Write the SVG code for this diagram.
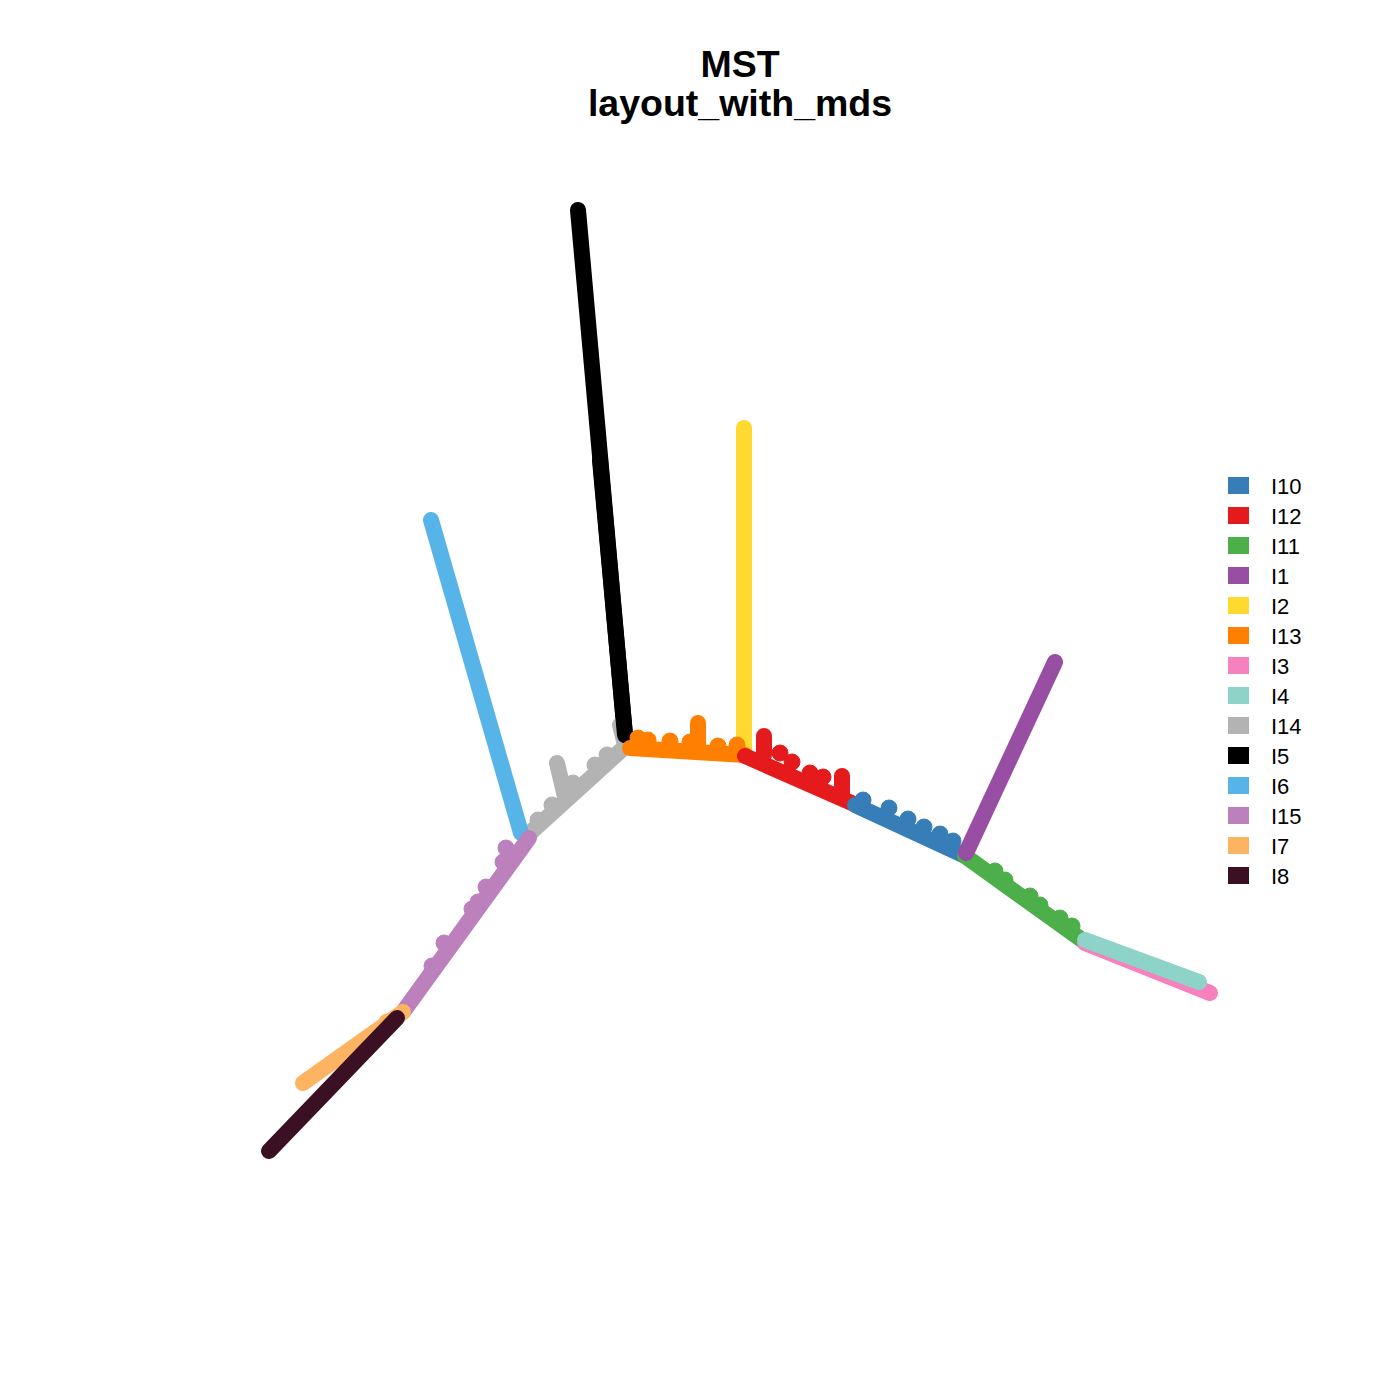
<svg xmlns="http://www.w3.org/2000/svg" width="1400" height="1400" viewBox="0 0 1400 1400">
<style>
.b{fill:none;stroke-width:16;stroke-linecap:round;stroke-linejoin:round}
.t{font-family:"Liberation Sans",Arial,sans-serif;fill:#000}
.title{font-weight:bold;font-size:37.5px;text-anchor:middle}
.lg{font-size:22px}
</style>
<rect width="1400" height="1400" fill="#fff"/>
<text class="t title" x="740" y="77">MST</text>
<text class="t title" x="740" y="116">layout_with_mds</text>
<g id="connectors">
<g id="I5" stroke="#000000" fill="#000000">
<path class="b" d="M578 210 L625 735"/>
</g>
<g id="I14" stroke="#B3B3B3" fill="#B3B3B3">
<path class="b" d="M627 745 L530 833 M557 763 L565 797 M620 725 L625 745"/>
<circle cx="607" cy="755" r="8"/><circle cx="595" cy="765" r="8"/><circle cx="573" cy="783" r="8"/><circle cx="552" cy="805" r="8"/><circle cx="538" cy="820" r="8"/>
</g>
<g id="I5top" stroke="#000000">
<path class="b" d="M600 460 L625 735"/>
</g>
<g id="I2" stroke="#FFD92F">
<path class="b" d="M744 428 L744 752"/>
</g>
<g id="I13" stroke="#FF7F00" fill="#FF7F00">
<path class="b" d="M630 748 L745 755 M698 723 L698 745"/>
<circle cx="638" cy="738" r="8"/><circle cx="648" cy="740" r="8"/><circle cx="670" cy="741" r="8"/><circle cx="690" cy="742" r="8"/><circle cx="718" cy="746" r="8"/><circle cx="737" cy="745" r="8"/>
</g>
<g id="I12" stroke="#E41A1C" fill="#E41A1C">
<path class="b" d="M745 756 L854 804 M764 736 L764 755 M842 776 L842 793"/>
<circle cx="780" cy="753" r="8"/><circle cx="792" cy="762" r="8"/><circle cx="810" cy="773" r="8"/><circle cx="823" cy="777" r="8"/>
</g>
<g id="I10" stroke="#377EB8" fill="#377EB8">
<path class="b" d="M855 805 L963 855"/>
<circle cx="863" cy="800" r="8"/><circle cx="889" cy="808" r="8"/><circle cx="908" cy="819" r="8"/><circle cx="924" cy="827" r="8"/><circle cx="940" cy="834" r="8"/><circle cx="953" cy="841" r="8"/>
</g>
<g id="I11" stroke="#4DAF4A" fill="#4DAF4A">
<path class="b" d="M965 856 L1082 940"/>
<circle cx="995" cy="871" r="8"/><circle cx="1005" cy="880" r="8"/><circle cx="1030" cy="896" r="8"/><circle cx="1040" cy="905" r="8"/><circle cx="1060" cy="918" r="8"/><circle cx="1072" cy="926" r="8"/>
</g>
<g id="I1" stroke="#984EA3">
<path class="b" d="M1055 662 L966 853"/>
</g>
<g id="I3" stroke="#F781BF">
<path class="b" d="M1085 943 L1210 993"/>
</g>
<g id="I4" stroke="#8DD3C7">
<path class="b" d="M1085 940 L1199 982"/>
</g>
<g id="I6" stroke="#56B4E9">
<path class="b" d="M431 520 L521 833"/>
</g>
<g id="I15" stroke="#BC80BD" fill="#BC80BD">
<path class="b" d="M529 838 L403 1012"/>
<circle cx="506" cy="848" r="8"/><circle cx="503" cy="862" r="8"/><circle cx="486" cy="887" r="8"/><circle cx="478" cy="902" r="8"/><circle cx="472" cy="909" r="8"/><circle cx="444" cy="943" r="8"/><circle cx="432" cy="966" r="8"/>
</g>
<g id="I7" stroke="#FDB462" fill="#FDB462">
<path class="b" d="M403 1012 L303 1083"/>
<circle cx="387" cy="1022" r="8"/>
</g>
<g id="I8" stroke="#3A1022">
<path class="b" d="M397 1018 L269 1151"/>
</g>
</g>
<g id="legend">
<g id="lg-I10"><rect x="1228" y="477" width="21" height="17" fill="#377EB8"/><text class="t lg" x="1271" y="494">I10</text></g>
<g id="lg-I12"><rect x="1228" y="507" width="21" height="17" fill="#E41A1C"/><text class="t lg" x="1271" y="524">I12</text></g>
<g id="lg-I11"><rect x="1228" y="537" width="21" height="17" fill="#4DAF4A"/><text class="t lg" x="1271" y="554">I11</text></g>
<g id="lg-I1"><rect x="1228" y="567" width="21" height="17" fill="#984EA3"/><text class="t lg" x="1271" y="584">I1</text></g>
<g id="lg-I2"><rect x="1228" y="597" width="21" height="17" fill="#FFD92F"/><text class="t lg" x="1271" y="614">I2</text></g>
<g id="lg-I13"><rect x="1228" y="627" width="21" height="17" fill="#FF7F00"/><text class="t lg" x="1271" y="644">I13</text></g>
<g id="lg-I3"><rect x="1228" y="657" width="21" height="17" fill="#F781BF"/><text class="t lg" x="1271" y="674">I3</text></g>
<g id="lg-I4"><rect x="1228" y="687" width="21" height="17" fill="#8DD3C7"/><text class="t lg" x="1271" y="704">I4</text></g>
<g id="lg-I14"><rect x="1228" y="717" width="21" height="17" fill="#B3B3B3"/><text class="t lg" x="1271" y="734">I14</text></g>
<g id="lg-I5"><rect x="1228" y="747" width="21" height="17" fill="#000000"/><text class="t lg" x="1271" y="764">I5</text></g>
<g id="lg-I6"><rect x="1228" y="777" width="21" height="17" fill="#56B4E9"/><text class="t lg" x="1271" y="794">I6</text></g>
<g id="lg-I15"><rect x="1228" y="807" width="21" height="17" fill="#BC80BD"/><text class="t lg" x="1271" y="824">I15</text></g>
<g id="lg-I7"><rect x="1228" y="837" width="21" height="17" fill="#FDB462"/><text class="t lg" x="1271" y="854">I7</text></g>
<g id="lg-I8"><rect x="1228" y="867" width="21" height="17" fill="#3A1022"/><text class="t lg" x="1271" y="884">I8</text></g>
</g>
</svg>
